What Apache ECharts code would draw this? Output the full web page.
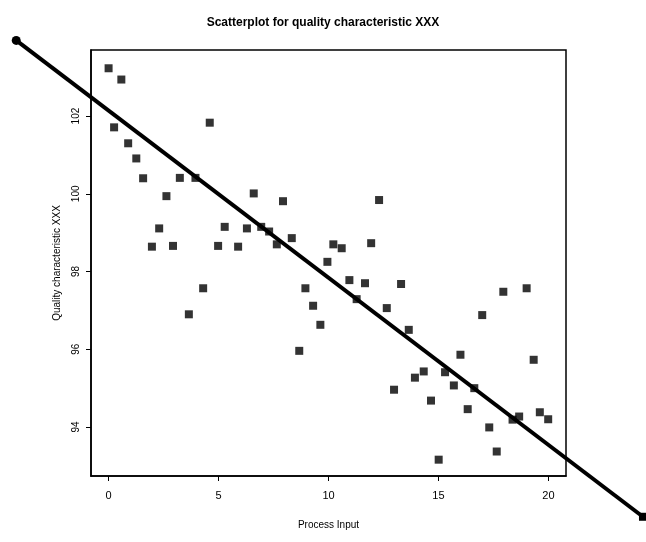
<!DOCTYPE html>
<html>
<head>
<meta charset="utf-8">
<script src="https://cdn.jsdelivr.net/npm/echarts@6/dist/echarts.min.js"></script>
<style>html,body{margin:0;padding:0;background:#fff}#c{width:646px;height:542px}</style>
</head>
<body>
<div id="c"></div>
<script>
// Process input (x) values
const processInput = [0, 0.58, 0.25, 0.89, 1.26, 1.57, 2.63, 2.30, 1.97, 2.93, 4.60, 3.24, 3.95, 6.60, 7.93, 5.28, 6.29, 6.94, 7.30, 4.98, 5.89, 7.65, 8.33, 12.30, 10.22, 10.60, 11.94, 4.30, 3.65, 8.95, 9.30, 9.63, 8.67, 9.95, 10.95, 11.66, 13.30, 11.28, 12.65, 13.65, 16.0, 14.33, 13.93, 15.30, 15.70, 16.63, 12.98, 14.66, 16.33, 17.31, 17.65, 15.01, 18.37, 18.67, 19.61, 19.99, 17.95, 19.01, 16.99, 19.33];
// Quality characteristic XXX (y) values
const qualityXXX = [103.23, 102.94, 101.71, 101.30, 100.91, 100.40, 99.94, 99.11, 98.64, 98.66, 101.83, 100.41, 100.41, 100.01, 99.81, 99.15, 99.11, 99.15, 99.03, 98.66, 98.64, 98.70, 98.86, 99.84, 98.70, 98.60, 98.73, 97.57, 96.90, 97.57, 97.12, 96.63, 95.96, 98.25, 97.78, 97.70, 97.68, 97.29, 97.06, 96.50, 95.86, 95.43, 95.27, 95.41, 95.07, 95.00, 94.96, 94.68, 94.46, 93.99, 93.37, 93.16, 94.19, 94.27, 94.38, 94.20, 97.48, 97.57, 96.88, 95.73];
// Fitted line
const fitIntercept = 102.14;
const fitSlope = -0.43;
const fitXEnds = [-4.2, 24.3];
// Tick labels
const xTicks = [0, 5, 10, 15, 20];
const yTicks = [94, 96, 98, 100, 102];

const points = processInput.map((x, i) => [x, qualityXXX[i]]);
const fitLine = [fitXEnds.map(x => x).concat(fitXEnds.map(x => fitIntercept + fitSlope * x))];

const chart = echarts.init(document.getElementById('c'));
const fontFamily = 'Liberation Sans, Arial, sans-serif';
chart.setOption({
  animation: false,
  backgroundColor: '#fff',
  title: {
    text: 'Scatterplot for quality characteristic XXX',
    left: 'center', top: 12,
    textStyle: {fontFamily, fontSize: 12, fontWeight: 'bold', color: '#000'}
  },
  grid: {
    left: 91, top: 50, right: 80, bottom: 66,
    show: true, borderColor: '#000', borderWidth: 1.5, backgroundColor: 'transparent'
  },
  xAxis: {
    type: 'value', min: -0.8, max: 20.8,
    name: 'Process Input', nameLocation: 'middle', nameGap: 44,
    nameTextStyle: {fontFamily, fontSize: 10, color: '#000'},
    axisLine: {show: true, onZero: false, lineStyle: {color: '#000', width: 1.5}},
    axisTick: {show: true, length: 5, customValues: xTicks, lineStyle: {color: '#000'}},
    axisLabel: {customValues: xTicks, margin: 14, fontFamily, fontSize: 11, color: '#000'},
    splitLine: {show: false}
  },
  yAxis: {
    type: 'value', min: 92.74, max: 103.7,
    name: 'Quality characteristic XXX', nameLocation: 'middle', nameGap: 29,
    nameTextStyle: {fontFamily, fontSize: 10, color: '#000'},
    axisLine: {show: true, onZero: false, lineStyle: {color: '#000', width: 1.5}},
    axisTick: {show: true, length: 5, customValues: yTicks, lineStyle: {color: '#000'}},
    axisLabel: {customValues: yTicks, rotate: 90, margin: 10, fontFamily, fontSize: 10, color: '#000'},
    splitLine: {show: false}
  },
  series: [
    {
      type: 'scatter', data: points, symbol: 'rect', symbolSize: 8,
      itemStyle: {color: '#000'}
    },
    {
      type: 'custom', clip: false, data: fitLine,
      encode: {x: [0, 1], y: [2, 3]},
      renderItem: function (params, api) {
        const p0 = api.coord([api.value(0), api.value(2)]);
        const p1 = api.coord([api.value(1), api.value(3)]);
        return {
          type: 'group',
          children: [
            {type: 'line', shape: {x1: p0[0], y1: p0[1], x2: p1[0], y2: p1[1]},
             style: {stroke: '#000', lineWidth: 4}},
            {type: 'circle', shape: {cx: p0[0], cy: p0[1], r: 4.5}, style: {fill: '#000'}},
            {type: 'rect', shape: {x: p1[0] - 4, y: p1[1] - 4, width: 8, height: 8}, style: {fill: '#000'}}
          ]
        };
      }
    }
  ]
});
</script>
</body>
</html>
